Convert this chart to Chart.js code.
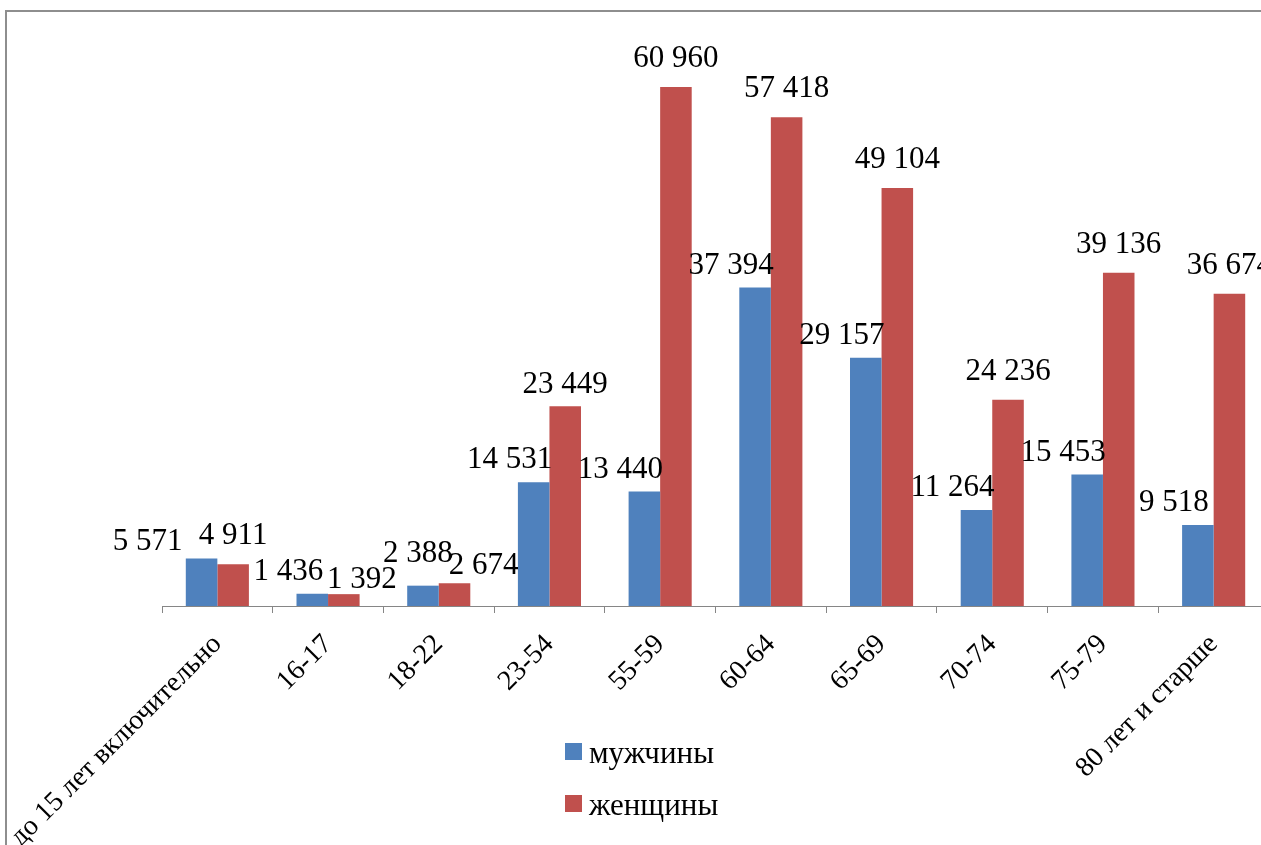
<!DOCTYPE html>
<html>
<head>
<meta charset="utf-8">
<script src="https://cdn.jsdelivr.net/npm/chart.js@4"></script>
<style>
  html, body { margin: 0; padding: 0; background: #fff; }
  #wrap { position: relative; width: 1261px; height: 845px; overflow: hidden; }
  #frame {
    position: absolute; left: 5px; top: 10px; width: 1400px; height: 1000px;
    border-top: 2px solid #8e8e8e; border-left: 2px solid #8e8e8e;
  }
  #chart { position: absolute; left: 0; top: 0; }
</style>
</head>
<body>
<div id="wrap">
  <div id="frame"></div>
  <canvas id="chart" width="1300" height="900"></canvas>
</div>
<script>
// ── data ─────────────────────────────────────────
const categories = ['до 15 лет включительно', '16-17', '18-22', '23-54', '55-59',
                    '60-64', '65-69', '70-74', '75-79', '80 лет и старше'];
const seriesNames = ['мужчины', 'женщины'];
const men   = [5571, 1436, 2388, 14531, 13440, 37394, 29157, 11264, 15453, 9518];
const women = [4911, 1392, 2674, 23449, 60960, 57418, 49104, 24236, 39136, 36674];

const COLORS = { men: '#4F81BD', women: '#C0504D', axis: '#868686', text: '#000' };
const FONT = "'Liberation Serif', 'Times New Roman', serif";

// label centre relative to bar top (dx, dy), per dataset, plus manual nudges
const LABEL_OFFSET = [[-24, -22], [0, -28]];
const LABEL_NUDGE = {
  '0:0': [-54, -17],
  '1:1': [18, -14],
  '0:2': [-5, -32],
  '1:2': [29, -17],
  '1:3': [0, -21],
};

const fmt = v => String(v).replace(/\B(?=(\d{3})+(?!\d))/g, ' ');

const valueLabels = {
  id: 'valueLabels',
  afterDatasetsDraw(chart) {
    const c = chart.ctx;
    c.save();
    c.font = '31px ' + FONT;
    c.fillStyle = COLORS.text;
    c.textAlign = 'center';
    c.textBaseline = 'middle';
    chart.data.datasets.forEach((ds, di) => {
      chart.getDatasetMeta(di).data.forEach((bar, i) => {
        const off = LABEL_NUDGE[di + ':' + i] || LABEL_OFFSET[di];
        c.fillText(fmt(ds.data[i]), bar.x + off[0], bar.y + off[1]);
      });
    });
    c.restore();
  }
};

// legend stacked under the plot, like the Excel original
const boxLegend = {
  id: 'boxLegend',
  afterDraw(chart) {
    const c = chart.ctx;
    c.save();
    c.font = '31px ' + FONT;
    c.textBaseline = 'alphabetic';
    c.textAlign = 'left';
    chart.data.datasets.forEach((ds, i) => {
      const y = 743 + i * 52;
      c.fillStyle = ds.backgroundColor;
      c.fillRect(565, y, 17, 17);
      c.fillStyle = COLORS.text;
      c.fillText(ds.label, 589, y + 20);
    });
    c.restore();
  }
};

new Chart(document.getElementById('chart'), {
  type: 'bar',
  data: {
    labels: categories,
    datasets: [
      { label: seriesNames[0], data: men, backgroundColor: COLORS.men,
        barPercentage: 1, categoryPercentage: 0.57 },
      { label: seriesNames[1], data: women, backgroundColor: COLORS.women,
        barPercentage: 1, categoryPercentage: 0.57 },
    ]
  },
  options: {
    responsive: false,
    animation: false,
    layout: { padding: { left: 162, top: 10, right: 31, bottom: 0 } },
    plugins: { legend: { display: false }, tooltip: { enabled: false } },
    scales: {
      x: {
        grid: { offset: true, drawOnChartArea: false, drawTicks: true, tickLength: 7, color: COLORS.axis },
        border: { color: COLORS.axis, width: 1 },
        ticks: {
          minRotation: 45, maxRotation: 45, autoSkip: false,
          color: COLORS.text, font: { family: FONT, size: 28 }, padding: 15
        },
        afterFit: s => { s.paddingLeft = 0; s.paddingRight = 0; s.height = 294; }
      },
      y: { display: false, min: 0, max: 70000 }
    }
  },
  plugins: [valueLabels, boxLegend]
});
</script>
</body>
</html>
